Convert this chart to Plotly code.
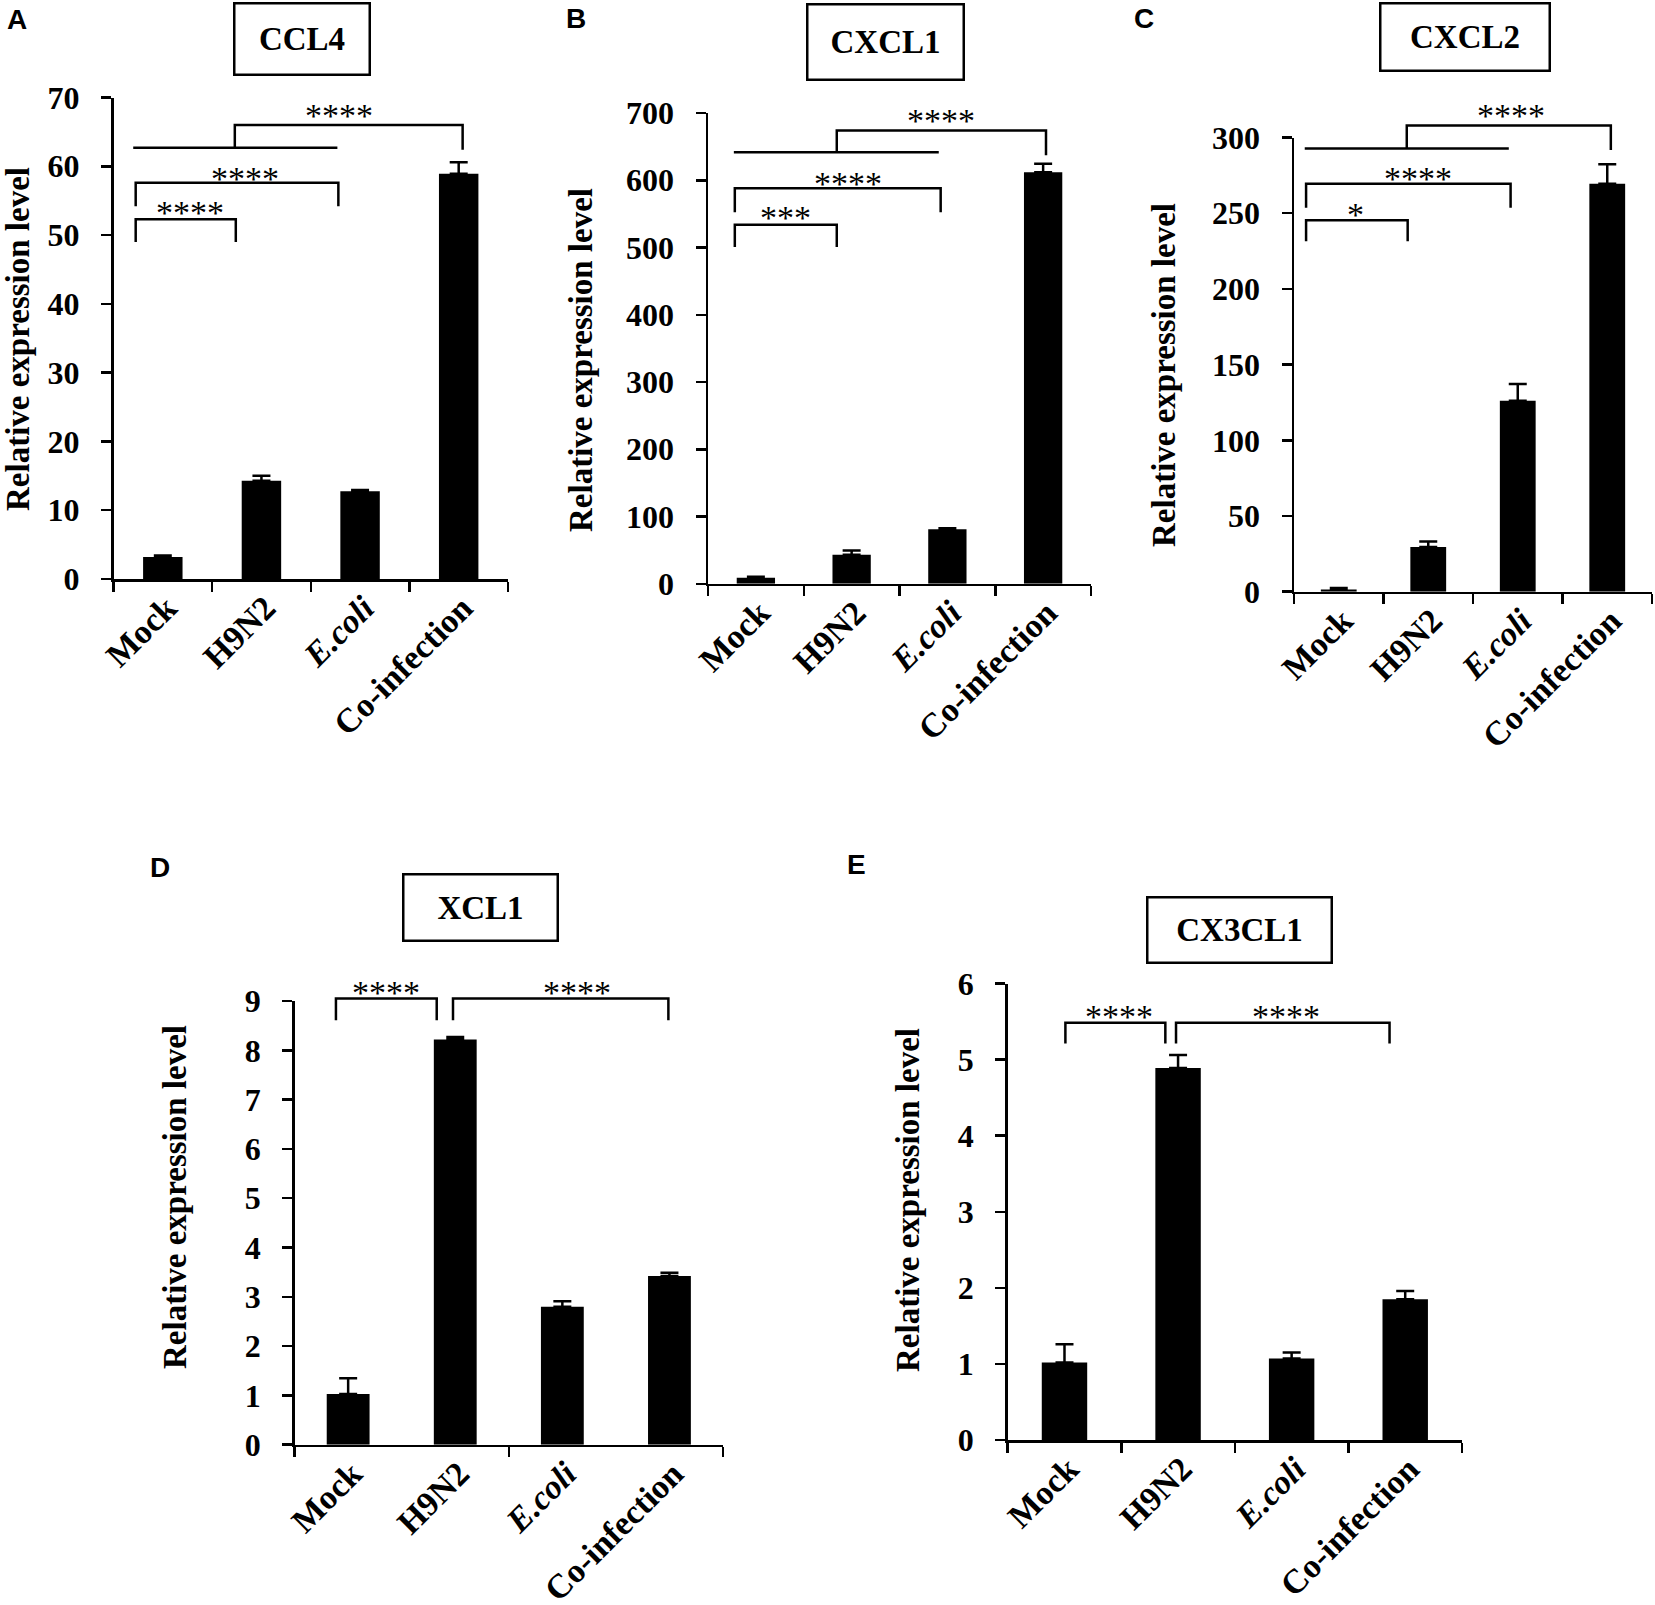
import plotly.graph_objects as go

W, H = 1655, 1605

# ---------------- data ----------------
categories = ["Mock", "H9N2", "<i>E.coli</i>", "Co-infection"]
cat_pos = [0, 1, 2, 3]

ccl4_mean = [3.2, 14.3, 12.75, 58.9]
ccl4_err = [0.2, 0.7, 0.2, 1.7]
cxcl1_mean = [8.9, 43.2, 81.0, 612.0]
cxcl1_err = [1.5, 6.2, 1.5, 12.6]
cxcl2_mean = [1.5, 29.6, 126.2, 269.5]
cxcl2_err = [0.9, 3.6, 11.0, 12.8]
xcl1_mean = [1.03, 8.22, 2.80, 3.42]
xcl1_err = [0.32, 0.05, 0.11, 0.07]
cx3cl1_mean = [1.02, 4.89, 1.07, 1.85]
cx3cl1_err = [0.24, 0.17, 0.08, 0.11]

y_max = [70, 700, 300, 9, 6]
y_dtick = [10, 100, 50, 1, 1]
gene_names = ["CCL4", "CXCL1", "CXCL2", "XCL1", "CX3CL1"]
panel_letters = ["A", "B", "C", "D", "E"]

# significance brackets (category units, value units)
ccl4_brackets = [
    [(-0.275, 49.0), (-0.275, 52.3), (0.74, 52.3), (0.74, 49.0)],
    [(-0.275, 54.2), (-0.275, 57.6), (1.78, 57.6), (1.78, 54.2)],
    [(-0.30, 62.7), (1.77, 62.7)],
    [(0.73, 62.7), (0.73, 66.0), (3.04, 66.0), (3.04, 62.4)],
]
ccl4_stars = [("****", 0.275, 53.9), ("****", 0.83, 58.8), ("****", 1.79, 68.0)]

cxcl1_brackets = [
    [(-0.22, 500.9), (-0.22, 533.8), (0.845, 533.8), (0.845, 500.9)],
    [(-0.22, 552.5), (-0.22, 588.2), (1.93, 588.2), (1.93, 552.5)],
    [(-0.23, 641.7), (1.91, 641.7)],
    [(0.845, 641.7), (0.845, 674.0), (3.03, 674.0), (3.03, 637.0)],
]
cxcl1_stars = [("***", 0.31, 551.0), ("****", 0.96, 601.8), ("****", 1.93, 695.0)]

cxcl2_brackets = [
    [(-0.365, 231.4), (-0.365, 245.4), (0.77, 245.4), (0.77, 231.4)],
    [(-0.365, 253.6), (-0.365, 269.5), (1.92, 269.5), (1.92, 253.6)],
    [(-0.38, 292.7), (1.90, 292.7)],
    [(0.76, 292.7), (0.76, 307.9), (3.04, 307.9), (3.04, 291.7)],
]
cxcl2_stars = [("*", 0.19, 252.1), ("****", 0.88, 275.6), ("****", 1.92, 317.0)]

xcl1_brackets = [
    [(-0.114, 8.61), (-0.114, 9.05), (0.827, 9.05), (0.827, 8.61)],
    [(0.979, 8.61), (0.979, 9.05), (2.99, 9.05), (2.99, 8.61)],
]
xcl1_stars = [("****", 0.35, 9.25), ("****", 2.14, 9.25)]

cx3cl1_brackets = [
    [(0.008, 5.21), (0.008, 5.485), (0.888, 5.485), (0.888, 5.21)],
    [(0.982, 5.21), (0.982, 5.485), (2.862, 5.485), (2.862, 5.21)],
]
cx3cl1_stars = [("****", 0.48, 5.62), ("****", 1.95, 5.62)]

means = [ccl4_mean, cxcl1_mean, cxcl2_mean, xcl1_mean, cx3cl1_mean]
errs = [ccl4_err, cxcl1_err, cxcl2_err, xcl1_err, cx3cl1_err]
brackets = [ccl4_brackets, cxcl1_brackets, cxcl2_brackets, xcl1_brackets, cx3cl1_brackets]
stars = [ccl4_stars, cxcl1_stars, cxcl2_stars, xcl1_stars, cx3cl1_stars]
boundary_ticks = [
    [-0.5, 0.5, 1.5, 2.5, 3.5],
    [-0.5, 0.5, 1.5, 2.5, 3.5],
    [-0.5, 0.5, 1.5, 2.5, 3.5],
    [-0.5, 1.5, 3.5],
    [-0.5, 0.5, 1.5, 2.5, 3.5],
]

# ---------------- layout geometry (pixels) ----------------
plot_px = [  # x0, x1, ytop, ybottom
    (113.5, 508, 97.5, 579),
    (708, 1091, 113, 583.8),
    (1294, 1652, 137.5, 591.7),
    (294.6, 723, 1001, 1444.7),
    (1007.7, 1462, 983.5, 1440),
]
title_box_px = [  # cx, cy, w, h
    (302, 39, 138, 74),
    (885, 41.5, 159, 78),
    (1465, 37.4, 172, 70),
    (480, 907, 157, 69),
    (1239, 929.5, 187, 68),
]
ytitle_px = [(18, 339), (581, 360), (1164, 375), (175, 1197), (907.5, 1200.5)]
letter_px = [(16.7, 19.3), (576, 19), (1144, 19), (160, 867), (856, 865)]
EXT = 90  # extra px above plot for brackets

SERIF = "Liberation Serif"
LW = 2.5


def px(x):
    return x / W


def py(y):
    return 1 - y / H


fig = go.Figure()
layout = dict(
    template="none",
    width=W, height=H, margin=dict(l=0, r=0, t=0, b=0, pad=0, autoexpand=False),
    paper_bgcolor="white", plot_bgcolor="rgba(0,0,0,0)",
    showlegend=False, annotations=[],
)

for i in range(5):
    k = i + 1
    kt = i + 6
    xa = "x" if k == 1 else f"x{k}"
    ya = "y" if k == 1 else f"y{k}"
    yt = f"y{kt}"
    x0, x1, yt0, yb0 = plot_px[i]
    dom_y = [py(yb0), py(yt0)]
    dom_y_ext = [py(yb0), py(yt0 - EXT)]
    ext_max = y_max[i] * (dom_y_ext[1] - dom_y_ext[0]) / (dom_y[1] - dom_y[0])

    fig.add_trace(go.Bar(
        x=cat_pos, y=means[i], width=0.4,
        marker=dict(color="black", line=dict(width=0)),
        error_y=dict(type="data", symmetric=False, array=errs[i],
                     arrayminus=[0] * 4, color="black", thickness=LW, width=9),
        xaxis=xa, yaxis=ya, hoverinfo="skip",
    ))

    bx, by = [], []
    for seg in brackets[i]:
        for (u, v) in seg:
            bx.append(u)
            by.append(v)
        bx.append(None)
        by.append(None)
    fig.add_trace(go.Scatter(
        x=bx, y=by, mode="lines", line=dict(color="black", width=LW),
        xaxis=xa, yaxis=yt, hoverinfo="skip", cliponaxis=False,
    ))

    xkey = "xaxis" if k == 1 else f"xaxis{k}"
    ykey = "yaxis" if k == 1 else f"yaxis{k}"
    layout[xkey] = dict(
        domain=[px(x0), px(x1)], range=[-0.5, 3.5], anchor=ya, automargin=False,
        tickmode="array", tickvals=cat_pos, ticktext=categories,
        tickangle=-45, ticks="", showline=True, linecolor="black",
        linewidth=LW, showgrid=False, zeroline=False,
        ticklabelstandoff=-7, ticklabelshift=4,
        tickfont=dict(family=SERIF, size=34, color="black", weight="bold"),
        minor=dict(tickmode="array", tickvals=boundary_ticks[i], ticks="outside",
                   ticklen=10, tickwidth=LW, tickcolor="black", showgrid=False),
        fixedrange=True,
    )
    layout[ykey] = dict(
        domain=dom_y, range=[0, y_max[i]], anchor=xa, automargin=False,
        tickmode="linear", tick0=0, dtick=y_dtick[i],
        ticks="outside", ticklen=10, tickwidth=LW, tickcolor="black",
        showline=True, linecolor="black", linewidth=LW,
        showgrid=False, zeroline=False, ticklabelstandoff=15,
        tickfont=dict(family=SERIF, size=32, color="black", weight="bold"),
        fixedrange=True,
    )
    layout[f"yaxis{kt}"] = dict(
        domain=dom_y_ext, range=[0, ext_max], anchor=xa, visible=False,
        automargin=False, showgrid=False, zeroline=False, fixedrange=True,
    )

    for (txt, sx, sy) in stars[i]:
        layout["annotations"].append(dict(
            text=txt, x=sx, y=sy, xref=xa, yref=yt, showarrow=False,
            xanchor="center", yanchor="middle", yshift=-4,
            font=dict(family=SERIF, size=34, color="black"),
        ))

    cx, cy, bw, bh = title_box_px[i]
    layout["annotations"].append(dict(
        text=f"<b>{gene_names[i]}</b>", x=px(cx), y=py(cy), xref="paper", yref="paper",
        showarrow=False, xanchor="center", yanchor="middle",
        width=bw - 7, height=bh - 7, borderpad=1, bordercolor="black", borderwidth=LW,
        font=dict(family=SERIF, size=33, color="black"),
    ))

    tx, ty = ytitle_px[i]
    layout["annotations"].append(dict(
        text="<b>Relative expression level</b>", x=px(tx), y=py(ty),
        xref="paper", yref="paper", showarrow=False, textangle=-90,
        xanchor="center", yanchor="middle",
        font=dict(family=SERIF, size=33, color="black"),
    ))

    lx, ly = letter_px[i]
    layout["annotations"].append(dict(
        text=f"<b>{panel_letters[i]}</b>", x=px(lx), y=py(ly),
        xref="paper", yref="paper", showarrow=False,
        xanchor="center", yanchor="middle",
        font=dict(family="Liberation Sans", size=28, color="black"),
    ))

fig.update_layout(**layout)
fig.write_html(
    "out.html",
    config={"displayModeBar": False, "staticPlot": True},
    post_script="document.body.style.margin='0px';document.body.style.overflow='hidden';",
)
